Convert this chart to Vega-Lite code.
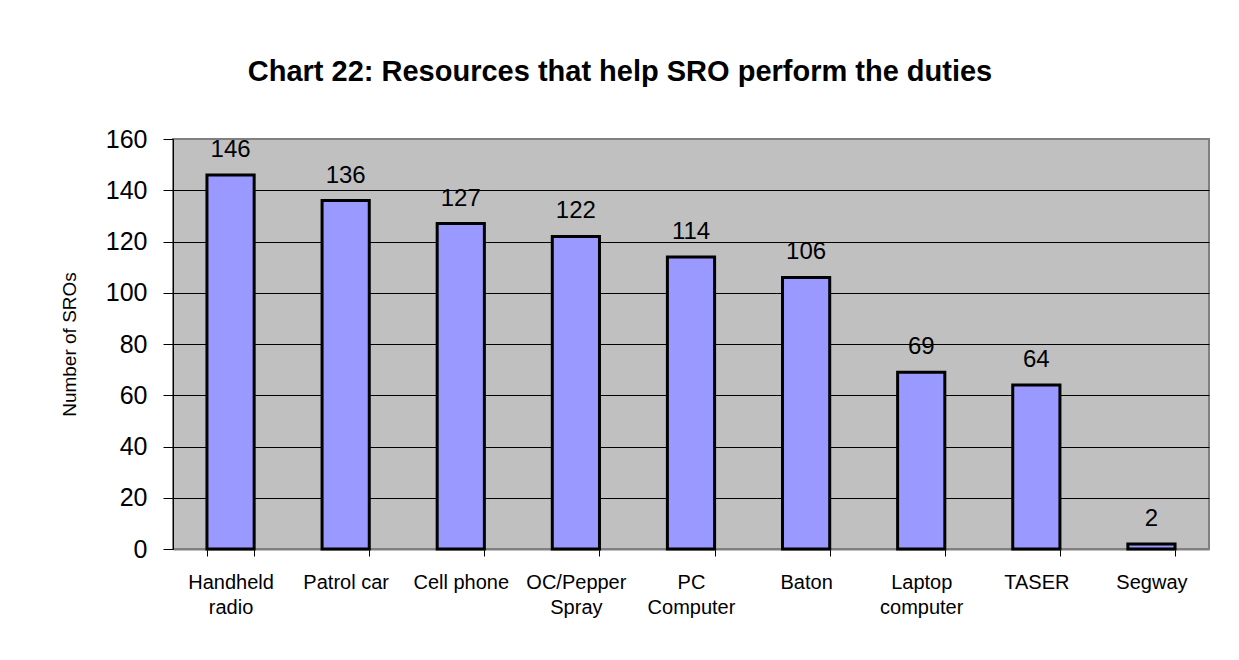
{
  "$schema": "https://vega.github.io/schema/vega-lite/v6.json",
  "autosize": "none",
  "width": 1036,
  "height": 410,
  "padding": {"left": 173, "top": 139, "right": 30, "bottom": 111},
  "background": "white",
  "title": {
    "text": "Chart 22: Resources that help SRO perform the duties",
    "font": "Liberation Sans",
    "fontSize": 29,
    "fontWeight": "bold",
    "color": "black",
    "anchor": "middle",
    "frame": "group",
    "dx": -71,
    "offset": 40
  },
  "data": {
    "values": [
      {"resource": "Handheld radio", "count": 146},
      {"resource": "Patrol car", "count": 136},
      {"resource": "Cell phone", "count": 127},
      {"resource": "OC/Pepper Spray", "count": 122},
      {"resource": "PC Computer", "count": 114},
      {"resource": "Baton", "count": 106},
      {"resource": "Laptop computer", "count": 69},
      {"resource": "TASER", "count": 64},
      {"resource": "Segway", "count": 2}
    ]
  },
  "encoding": {
    "x": {
      "field": "resource",
      "type": "nominal",
      "sort": null,
      "scale": {"paddingInner": 0.59, "paddingOuter": 0.295},
      "axis": {
        "title": null,
        "labelAngle": 0,
        "labelFont": "Liberation Sans",
        "labelFontSize": 20,
        "labelColor": "black",
        "labelPadding": 16,
        "labelLineHeight": 25,
        "labelBaseline": "top",
        "labelExpr": "datum.label == 'Handheld radio' ? ['Handheld','radio'] : datum.label == 'OC/Pepper Spray' ? ['OC/Pepper','Spray'] : datum.label == 'PC Computer' ? ['PC','Computer'] : datum.label == 'Laptop computer' ? ['Laptop','computer'] : datum.label",
        "tickBand": "extent",
        "tickSize": 7,
        "tickColor": "black",
        "tickWidth": 1,
        "domain": true,
        "domainColor": "#808080",
        "domainWidth": 2,
        "grid": false
      }
    },
    "y": {
      "field": "count",
      "type": "quantitative",
      "scale": {"domain": [0, 160], "nice": false},
      "axis": {
        "title": "Number of SROs",
        "titleFont": "Liberation Sans",
        "titleFontSize": 19,
        "titleFontWeight": "normal",
        "titleColor": "black",
        "titlePadding": 26,
        "values": [0, 20, 40, 60, 80, 100, 120, 140, 160],
        "labelFont": "Liberation Sans",
        "labelFontSize": 25,
        "labelColor": "black",
        "labelPadding": 16,
        "tickSize": 10,
        "tickColor": "black",
        "tickWidth": 1,
        "domain": true,
        "domainColor": "black",
        "domainWidth": 1,
        "grid": true,
        "gridColor": "black",
        "gridWidth": 1,
        "gridOpacity": {"condition": {"test": "datum.value == 160 || datum.value == 0", "value": 0}, "value": 1}
      }
    }
  },
  "layer": [
    {
      "mark": {"type": "bar", "color": "#9999FF", "stroke": "black", "strokeWidth": 3}
    },
    {
      "mark": {"type": "text", "baseline": "alphabetic", "dy": -18, "font": "Liberation Sans", "fontSize": 24, "color": "black"},
      "encoding": {"text": {"field": "count", "type": "quantitative"}}
    }
  ],
  "config": {
    "view": {"fill": "#C0C0C0", "stroke": "#808080", "strokeWidth": 2}
  }
}
